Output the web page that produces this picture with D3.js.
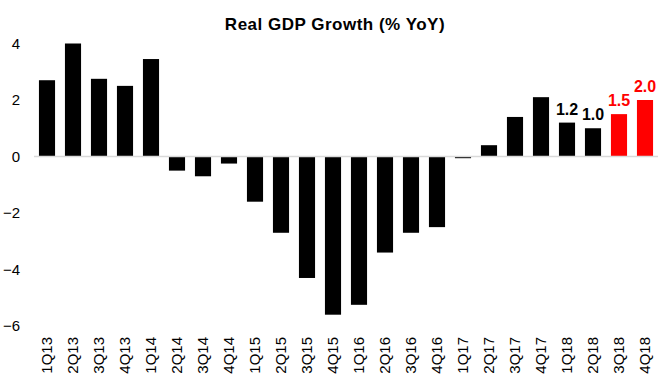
<!DOCTYPE html>
<html>
<head>
<meta charset="utf-8">
<script src="https://cdn.jsdelivr.net/npm/d3@7"></script>
<style>
  body { margin: 0; background: #fff; }
  text { font-family: "Liberation Sans", Arial, sans-serif; }
</style>
</head>
<body>
<svg id="svg" width="660" height="375"></svg>
<script>
// quarters and real GDP growth (% YoY)
const quarters = ["1Q13", "2Q13", "3Q13", "4Q13", "1Q14", "2Q14", "3Q14", "4Q14",
  "1Q15", "2Q15", "3Q15", "4Q15", "1Q16", "2Q16", "3Q16", "4Q16",
  "1Q17", "2Q17", "3Q17", "4Q17", "1Q18", "2Q18", "3Q18", "4Q18"];
const growth = [2.7, 4.0, 2.75, 2.5, 3.45, -0.5, -0.7, -0.25,
  -1.6, -2.7, -4.3, -5.6, -5.25, -3.4, -2.7, -2.5,
  -0.06, 0.4, 1.4, 2.1, 1.2, 1.0, 1.5, 2.0];
const forecast = ["3Q18", "4Q18"];
const labelled = ["1Q18", "2Q18", "3Q18", "4Q18"];
const yTicks = [-6, -4, -2, 0, 2, 4];

let data = quarters.map((q, i) => ({ q: q, v: growth[i] }));
let container = d3.select("#svg");

let xScale = d3.scaleBand().domain(quarters).range([34, 658])
  .paddingInner(0.38).paddingOuter(0.19);
let yScale = d3.scaleLinear().domain([-6, 4]).range([326, 43.5]);
let colour = (d) => (forecast.includes(d.q) ? "#ff0000" : "#000000");

container.append("text")
  .attr("x", 335)
  .attr("y", 30)
  .attr("text-anchor", "middle")
  .style("font-size", "17px")
  .style("letter-spacing", "0.5px")
  .style("font-weight", "bold")
  .text("Real GDP Growth (% YoY)");

// y axis labels only, no line or ticks
let yAxis = container.append("g")
  .attr("transform", "translate(20,0)")
  .call(d3.axisLeft(yScale).tickValues(yTicks).tickSize(0).tickPadding(0));
yAxis.select(".domain").remove();
yAxis.selectAll("text").style("font-size", "15px").attr("fill", "#000");

container.selectAll(".bar")
  .data(data)
  .enter()
  .append("rect")
  .attr("class", "bar")
  .attr("x", (d) => xScale(d.q))
  .attr("width", xScale.bandwidth())
  .attr("y", (d) => yScale(Math.max(0, d.v)))
  .attr("height", (d) => Math.abs(yScale(d.v) - yScale(0)))
  .attr("fill", colour);

container.append("line")
  .attr("x1", 34)
  .attr("x2", 658)
  .attr("y1", yScale(0))
  .attr("y2", yScale(0))
  .attr("stroke", "#d9d9d9")
  .attr("stroke-width", 1.5);

// x axis labels, rotated
let xAxis = container.append("g")
  .attr("transform", "translate(0,337)")
  .call(d3.axisBottom(xScale).tickSize(0).tickPadding(0));
xAxis.select(".domain").remove();
xAxis.selectAll("text")
  .style("font-size", "15px")
  .attr("fill", "#000")
  .attr("text-anchor", "end")
  .attr("dy", "0.35em")
  .attr("transform", "rotate(-90)");

container.selectAll(".label")
  .data(data.filter((d) => labelled.includes(d.q)))
  .enter()
  .append("text")
  .attr("class", "label")
  .attr("x", (d) => xScale(d.q) + xScale.bandwidth() / 2)
  .attr("y", (d) => yScale(d.v) - 8)
  .attr("text-anchor", "middle")
  .style("font-size", "16px")
  .style("font-weight", "bold")
  .attr("fill", colour)
  .text((d) => d.v.toFixed(1));
</script>
</body>
</html>
